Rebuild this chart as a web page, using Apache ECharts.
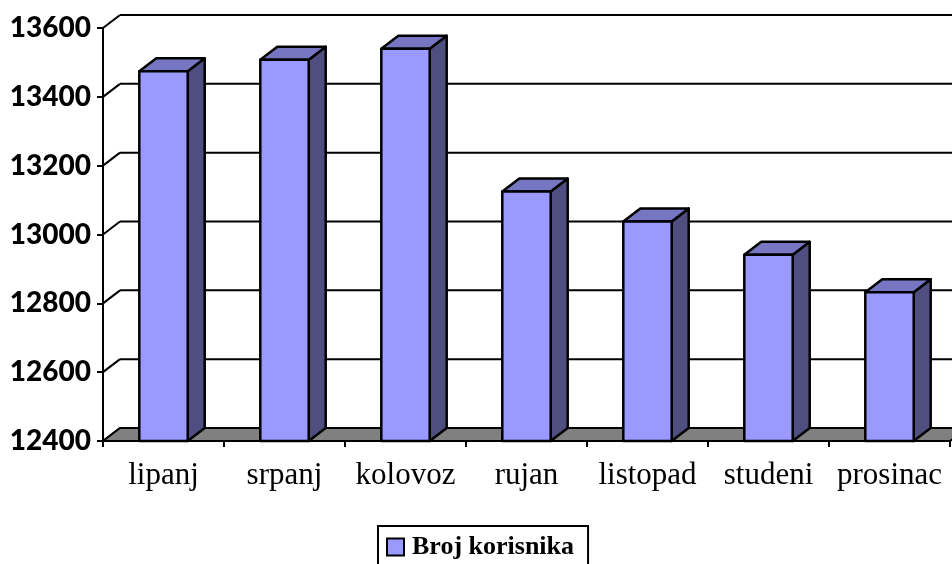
<!DOCTYPE html>
<html>
<head>
<meta charset="utf-8">
<script src="https://cdn.jsdelivr.net/npm/echarts@6/dist/echarts.min.js"></script>
<style>
  html, body { margin: 0; padding: 0; background: #fff; }
  #chart { width: 952px; height: 564px; }
</style>
</head>
<body>
<div id="chart"></div>
<script>
// data
const months = ['lipanj', 'srpanj', 'kolovoz', 'rujan', 'listopad', 'studeni', 'prosinac'];
const users = [13474, 13508, 13540, 13125, 13038, 12941, 12832];
const yTicks = [12400, 12600, 12800, 13000, 13200, 13400, 13600];
const seriesName = 'Broj korisnika';

const Y_MIN = 12400, Y_MAX = 13600;
const DX = 17, DY = -13; // fake 3d depth
const LINE = '#000';

// back wall gridlines + diagonals to front axis
function renderWall(params, api) {
  const cs = params.coordSys;
  const y = api.coord([0, api.value(1)])[1];
  const kids = [{
    type: 'line',
    shape: { x1: cs.x, y1: y, x2: cs.x + DX, y2: y + DY },
    style: { stroke: LINE, lineWidth: 2 }
  }];
  if (api.value(1) > Y_MIN) {
    kids.push({
      type: 'line',
      shape: { x1: cs.x + DX, y1: y + DY, x2: cs.x + cs.width + DX, y2: y + DY },
      style: { stroke: LINE, lineWidth: 2 }
    });
  }
  return { type: 'group', children: kids };
}

function renderFloor(params, api) {
  const cs = params.coordSys;
  const y = api.coord([0, Y_MIN])[1];
  const x0 = cs.x, x1 = cs.x + cs.width;
  return {
    type: 'polygon',
    shape: { points: [[x0, y], [x1, y], [x1 + DX, y + DY], [x0 + DX, y + DY]] },
    style: { fill: '#808080', stroke: LINE, lineWidth: 2, lineJoin: 'round' }
  };
}

function renderBar(params, api) {
  const i = api.value(0);
  const top = api.coord([i, api.value(1)]);
  const base = api.coord([i, Y_MIN]);
  const bw = api.size([1, 0])[0] * 0.4;
  const xl = top[0] - bw / 2, xr = top[0] + bw / 2;
  const yt = top[1], yb = base[1];
  const st = { stroke: LINE, lineWidth: 2.5, lineJoin: 'round' };
  return {
    type: 'group',
    children: [
      { type: 'polygon', shape: { points: [[xr, yb], [xr, yt], [xr + DX, yt + DY], [xr + DX, yb + DY]] },
        style: Object.assign({ fill: '#4e4e80' }, st) },
      { type: 'polygon', shape: { points: [[xl, yt], [xr, yt], [xr + DX, yt + DY], [xl + DX, yt + DY]] },
        style: Object.assign({ fill: '#7676c2' }, st) },
      { type: 'rect', shape: { x: xl, y: yt, width: bw, height: yb - yt },
        style: Object.assign({ fill: '#9999ff' }, st) }
    ]
  };
}

const chart = echarts.init(document.getElementById('chart'));
chart.setOption({
  backgroundColor: '#fff',
  animation: false,
  grid: { left: 103, top: 28, width: 847, height: 413 },
  xAxis: {
    type: 'category',
    data: months,
    axisLine: { lineStyle: { color: LINE, width: 2 } },
    axisTick: { show: true, interval: 0, length: 6, lineStyle: { color: LINE, width: 2 } },
    axisLabel: { interval: 0, color: '#000', fontFamily: 'Liberation Serif', fontSize: 31, margin: 19 }
  },
  yAxis: {
    type: 'value',
    min: Y_MIN, max: Y_MAX, interval: 200,
    axisLine: { show: true, lineStyle: { color: LINE, width: 2 } },
    axisTick: { show: true, length: 6, lineStyle: { color: LINE, width: 2 } },
    splitLine: { show: false },
    axisLabel: { color: '#000', fontFamily: 'Lato', fontWeight: 900, fontSize: 28, margin: 12,
      formatter: v => String(v) }
  },
  legend: {
    data: [seriesName],
    left: 378, top: 526,
    padding: [8, 14, 8, 8],
    borderColor: '#000', borderWidth: 2,
    icon: 'rect', itemWidth: 17, itemHeight: 17,
    itemStyle: { borderColor: '#000', borderWidth: 2 },
    textStyle: { color: '#000', fontFamily: 'Liberation Serif', fontWeight: 'bold', fontSize: 26, padding: [0, 0, 0, 3] }
  },
  series: [
    { type: 'custom', name: 'wall', silent: true, z: 1,
      renderItem: renderWall, data: yTicks.map(t => [0, t]) },
    { type: 'custom', name: 'floor', silent: true, z: 2,
      renderItem: renderFloor, data: [[0, Y_MIN]] },
    { type: 'custom', name: seriesName, z: 3,
      itemStyle: { color: '#9999ff' },
      renderItem: renderBar, data: users.map((v, i) => [i, v]) }
  ]
});
</script>
</body>
</html>
